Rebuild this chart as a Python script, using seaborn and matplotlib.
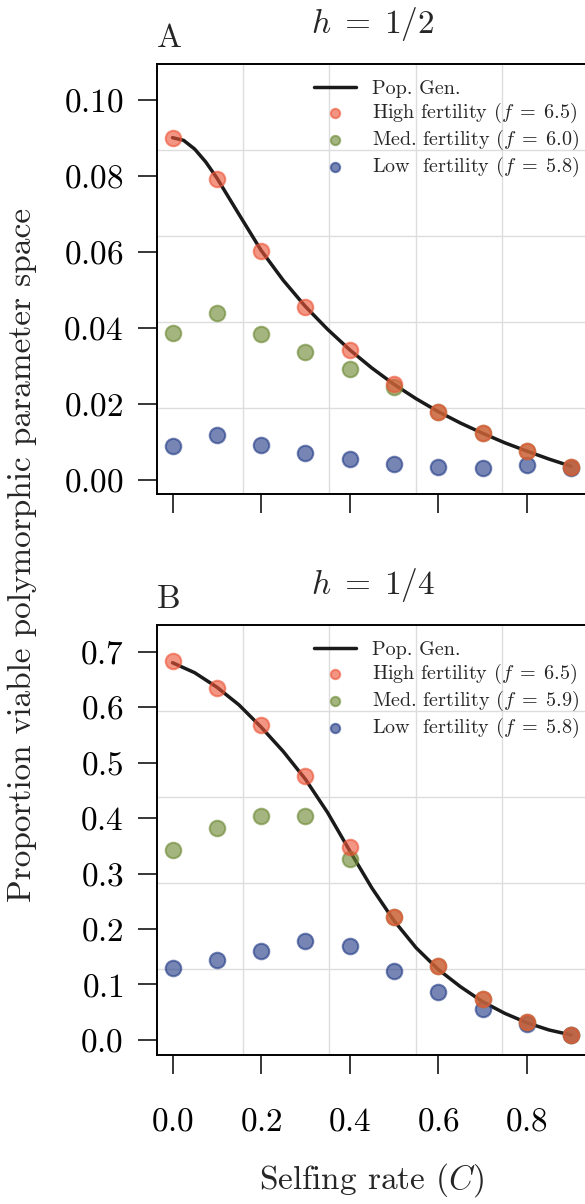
import numpy as np
import pandas as pd
import matplotlib
matplotlib.use("Agg")
import matplotlib.pyplot as plt
from matplotlib.ticker import MultipleLocator
import seaborn as sns

# selfing rates of the simulated points
C_pts = [0.0, 0.1, 0.2, 0.3, 0.4, 0.5, 0.6, 0.7, 0.8, 0.9]

# panel A, h = 1/2
a_high = [0.0900, 0.0794, 0.0603, 0.0457, 0.0343, 0.0252, 0.0180, 0.0123, 0.0075, 0.0035]
a_med = [0.0386, 0.0439, 0.0385, 0.0337, 0.0292, 0.0246, 0.0180, 0.0123, 0.0075, 0.0035]
a_low = [0.0090, 0.0119, 0.0092, 0.0070, 0.0055, 0.0043, 0.0035, 0.0032, 0.0040, 0.0032]
a_line_C = [0.0, 0.025, 0.05, 0.075, 0.1, 0.15, 0.2, 0.25, 0.3, 0.35, 0.4,
            0.45, 0.5, 0.55, 0.6, 0.65, 0.7, 0.75, 0.8, 0.85, 0.9]
a_line = [0.0902, 0.0895, 0.0872, 0.0838, 0.0796, 0.0700, 0.0605, 0.0526, 0.0457, 0.0397, 0.0343,
          0.0295, 0.0252, 0.0214, 0.0180, 0.0150, 0.0123, 0.0098, 0.0076, 0.0055, 0.0036]

# panel B, h = 1/4
b_high = [0.684, 0.635, 0.568, 0.475, 0.347, 0.221, 0.133, 0.073, 0.032, 0.009]
b_med = [0.342, 0.382, 0.403, 0.404, 0.327, 0.221, 0.133, 0.073, 0.032, 0.009]
b_low = [0.129, 0.144, 0.161, 0.178, 0.169, 0.125, 0.087, 0.056, 0.029, 0.009]
b_line_C = [0.0, 0.05, 0.1, 0.15, 0.2, 0.25, 0.3, 0.35, 0.4, 0.45,
            0.5, 0.55, 0.6, 0.65, 0.7, 0.75, 0.8, 0.85, 0.9]
b_line = [0.680, 0.662, 0.636, 0.604, 0.564, 0.520, 0.470, 0.410, 0.341, 0.274,
          0.215, 0.166, 0.127, 0.096, 0.069, 0.048, 0.031, 0.018, 0.009]

fert_labels = {
    "A": [r"High fertility ($f\;=\;6.5$)", r"Med. fertility ($f\;=\;6.0$)", r"Low  fertility ($f\;=\;5.8$)"],
    "B": [r"High fertility ($f\;=\;6.5$)", r"Med. fertility ($f\;=\;5.9$)", r"Low  fertility ($f\;=\;5.8$)"],
}
titles = {"A": r"$h\;=\;1/2$", "B": r"$h\;=\;1/4$"}
colors = ["#ec5437", "#6c8833", "#223b86"]

sns.set_theme(style="white")
plt.rcParams["font.family"] = ["cmr10", "DejaVu Serif"]
plt.rcParams["mathtext.fontset"] = "cm"
plt.rcParams["axes.formatter.use_mathtext"] = True
plt.rcParams["axes.unicode_minus"] = False

fig = plt.figure(figsize=(5.85, 12.04), dpi=100)

panels = {
    "A": dict(bottom=0.5897, ylim=(-0.0037, 0.1096), ystep=0.02,
              high=a_high, med=a_med, low=a_low, lc=a_line_C, ly=a_line),
    "B": dict(bottom=0.1238, ylim=(-0.027, 0.748), ystep=0.1,
              high=b_high, med=b_med, low=b_low, lc=b_line_C, ly=b_line),
}

for key, p in panels.items():
    rect = [0.2684, p["bottom"], 0.7368, 0.3571]

    # frame + grid (grid is not tied to the data ticks)
    bg = fig.add_axes(rect)
    bg.set_xlim(0, 1)
    bg.set_ylim(0, 1)
    bg.set_xticks([0.2, 0.4, 0.6, 0.8])
    bg.set_yticks([0.2, 0.4, 0.6, 0.8])
    bg.grid(True, color="#dddddd", linewidth=1.0)
    bg.tick_params(length=0, labelleft=False, labelbottom=False)
    for s in bg.spines.values():
        s.set_visible(True)
        s.set_color("black")
        s.set_linewidth(1.4)

    ax = fig.add_axes(rect)
    ax.patch.set_alpha(0)
    for s in ax.spines.values():
        s.set_visible(False)

    line_df = pd.DataFrame({"C": p["lc"], "y": p["ly"]})
    sns.lineplot(data=line_df, x="C", y="y", ax=ax, color="#1a1a1a", linewidth=2.5,
                 label="Pop. Gen.", zorder=2)
    for vals, lab, col, z in zip([p["high"], p["med"], p["low"]], fert_labels[key], colors, [5, 4, 3]):
        df = pd.DataFrame({"C": C_pts, "y": vals})
        sns.scatterplot(data=df, x="C", y="y", ax=ax, color=col, edgecolor=col,
                        s=125, linewidth=1.5, alpha=0.62, label=lab, zorder=z)

    ax.set_xlim(-0.035, 0.938)
    ax.set_ylim(*p["ylim"])
    ax.yaxis.set_major_locator(MultipleLocator(p["ystep"]))
    ax.set_xticks([0.0, 0.2, 0.4, 0.6, 0.8])
    ax.set_xlabel("")
    ax.set_ylabel("")
    ax.tick_params(axis="both", direction="out", length=14, width=1.1, color="black",
                   labelsize=24, labelcolor="black", bottom=True, left=True)
    ax.tick_params(axis="y", pad=10)
    ax.tick_params(axis="x", pad=24)
    if key == "A":
        ax.tick_params(axis="x", labelbottom=False)

    ax.legend(loc="upper right", bbox_to_anchor=(0.99, 0.972), frameon=False,
              fontsize=14.5, markerscale=0.6, handlelength=2.1, handletextpad=0.8,
              labelspacing=0.14, borderaxespad=0.0, borderpad=0.2)

    ax.text(0.0, 1.04, key, transform=ax.transAxes, fontsize=24, ha="left", va="baseline")
    ax.text(0.5, 1.072, titles[key], transform=ax.transAxes, fontsize=24, ha="center", va="baseline")

fig.text(0.038, 0.539, "Proportion viable polymorphic parameter space", rotation=90,
         fontsize=24, ha="center", va="center")
fig.text(0.636, 0.02, r"Selfing rate ($C$)", fontsize=24, ha="center", va="center")

fig.savefig("out.png", dpi=100)
